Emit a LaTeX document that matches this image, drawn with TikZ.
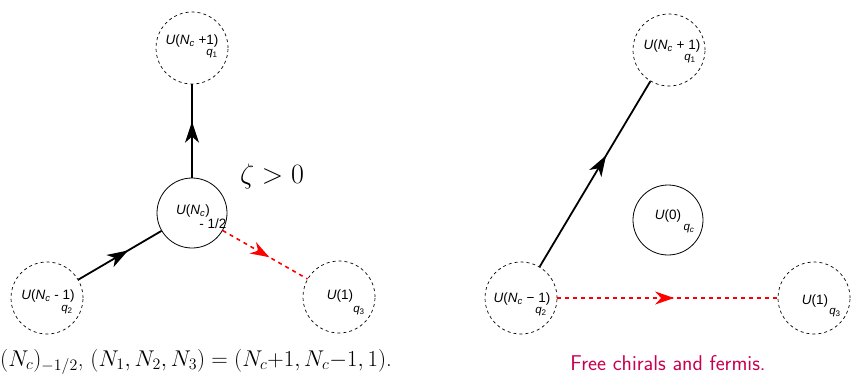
\RequirePackage{fix-cm}
\documentclass[tikz,border=0pt]{standalone}
\usepackage{fontspec}
\newfontfamily\lblfont{Liberation Sans}
\usetikzlibrary{arrows.meta,decorations.markings,calc}
\definecolor{capred}{RGB}{200,0,80}
\tikzset{
  gnode/.style={circle,draw=black,dashed,dash pattern=on 3pt off 3pt,line width=0.7pt,minimum size=72pt,inner sep=0pt},
  snode/.style={circle,draw=black,line width=0.8pt,minimum size=70pt,inner sep=0pt},
  lbl/.style={font=\lblfont\fontsize{13.5}{14}\selectfont,inner sep=0pt},
  sub/.style={font=\lblfont\fontsize{11.5}{12}\selectfont,inner sep=0pt},
  chiral/.style={line width=1.8pt,postaction={decorate},decoration={markings,mark=at position #1 with {\arrow{Stealth[length=21pt,width=14pt,inset=6pt]}}}},
  fermi/.style={red,line width=1.6pt,dash pattern=on 4pt off 4pt,postaction={decorate},decoration={markings,mark=at position #1 with {\arrow{Stealth[length=19pt,width=13pt,inset=6pt,red]}}}},
}
\newcommand{\It}[1]{\textit{#1}}
\begin{document}
\begin{tikzpicture}[x=1pt,y=-1pt]
\useasboundingbox (0,0) rectangle (851,373);
% left diagram
\node[gnode] (a1) at (192,48) {};
\node[snode] (a0) at (192,213) {};
\node[gnode] (a2) at (47,298) {};
\node[gnode] (a3) at (339,297) {};
\node[lbl] (a1t) at (192,41) {\It{U}(\It{N}\textsubscript{\It{c}} +1)};
\node[sub] (a1q) at (212,54) {\It{q}\textsubscript{1}};
\node[lbl] (a0t) at (193,211) {\It{U}(\It{N}\textsubscript{\It{c}})};
\node[lbl] (a0k) at (213,224) {- 1/2};
\node[lbl] (a2t) at (48,296) {\It{U}(\It{N}\textsubscript{\It{c}} - 1)};
\node[sub] (a2q) at (67,310) {\It{q}\textsubscript{2}};
\node[lbl] (a3t) at (340,296) {\It{U}(1)};
\node[sub] (a3q) at (359,311) {\It{q}\textsubscript{3}};
\draw[chiral=0.6] (a0) -- (a1);
\draw[chiral=0.6] (a2) -- (a0);
\draw[fermi=0.55] (a0) -- (a3);
\node (zeta) at (272,176) {\fontsize{28}{30}\selectfont$\zeta>0$};
\node[anchor=east,inner sep=0pt] (capl) at (392,362) {\fontsize{22.8}{25}\selectfont$(N_c)_{-1/2}$, $(N_1,N_2,N_3)=(N_c{+}1,N_c{-}1,1)$.};
% right diagram
\node[gnode] (b1) at (669,50) {};
\node[snode] (b0) at (668,220) {};
\node[gnode] (b2) at (521,298) {};
\node[gnode] (b3) at (814,298) {};
\node[lbl] (b1t) at (672,46) {\It{U}(\It{N}\textsubscript{\It{c}} + 1)};
\node[sub] (b1q) at (690,59) {\It{q}\textsubscript{1}};
\node[lbl] (b0t) at (668,216) {\It{U}(0)};
\node[sub] (b0q) at (689,229) {\It{q}\textsubscript{\It{c}}};
\node[lbl] (b2t) at (522,299) {\It{U}(\It{N}\textsubscript{\It{c}} − 1)};
\node[sub] (b2q) at (541,312) {\It{q}\textsubscript{2}};
\node[lbl] (b3t) at (815,301) {\It{U}(1)};
\node[sub] (b3q) at (835,313) {\It{q}\textsubscript{3}};
\draw[chiral=0.6] (b2) -- (b1);
\draw[fermi=0.53] (b2) -- (b3);
\node[text=capred,font=\sffamily\fontsize{21.4}{24}\selectfont] (capr) at (668,363) {Free chirals and fermis.};
\end{tikzpicture}
\end{document}
